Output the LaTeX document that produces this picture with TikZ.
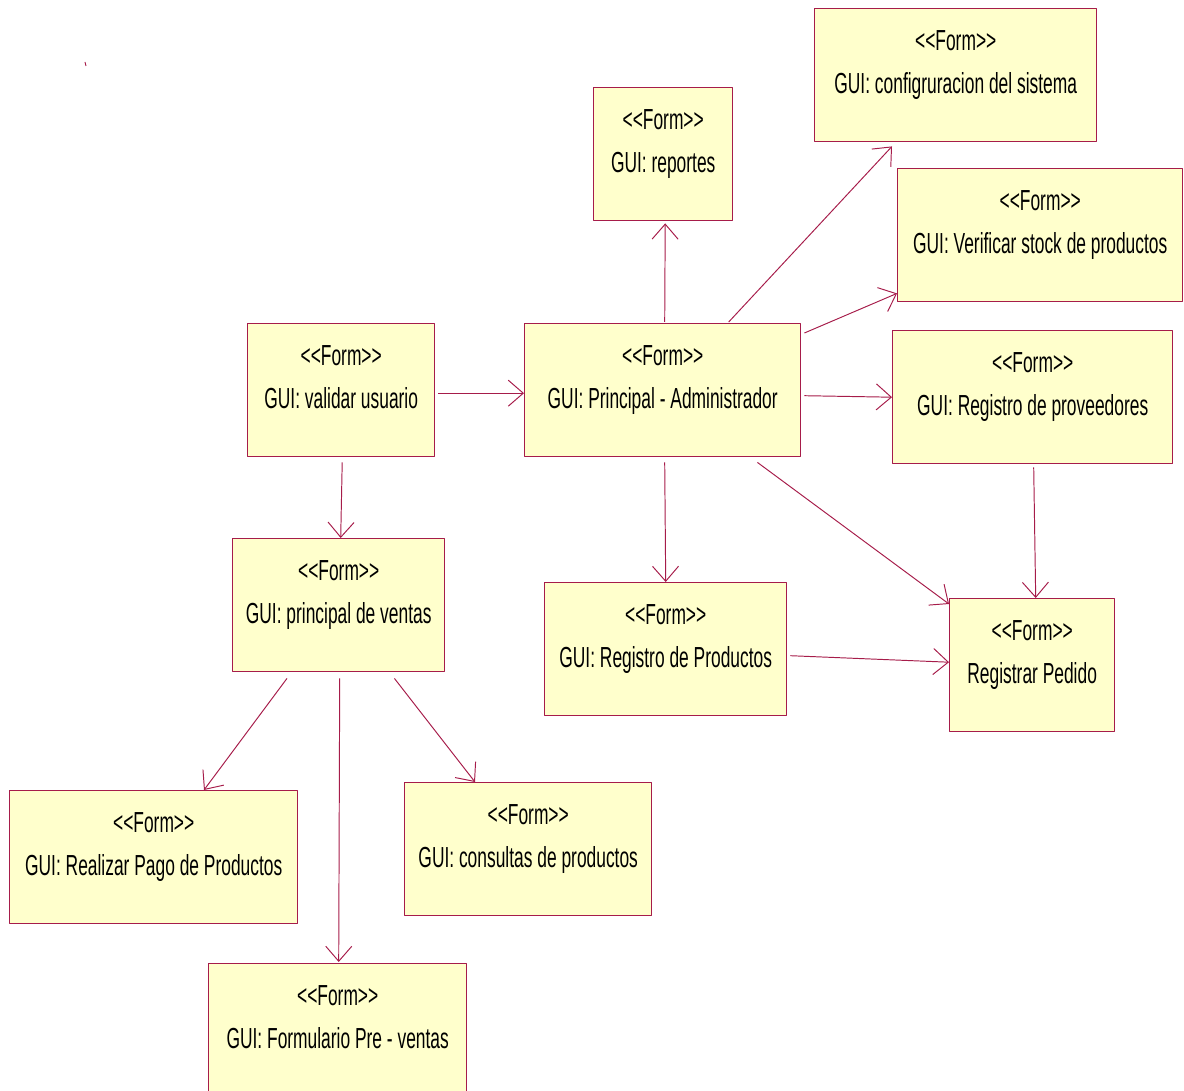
\documentclass[tikz,border=0pt]{standalone}
\usepackage{fontspec}
\setmainfont[FakeStretch=0.6,Ligatures=TeXOff]{Liberation Sans}
\usetikzlibrary{arrows.meta,calc}
\definecolor{formline}{RGB}{166,28,74}
\definecolor{formfill}{RGB}{255,255,204}

\begin{document}
\begin{tikzpicture}[x=0.02cm,y=-0.02cm,line join=round,>={Straight Barb[length=0.3cm,width=0.52cm]}]
\tikzset{formbox/.style={draw=formline,fill=formfill,line width=0.8pt,anchor=north west,minimum height=133*0.02cm,inner sep=0pt},
formtext/.style={anchor=north,align=center,inner sep=0pt,font=\fontsize{16.5}{24.4}\selectfont},
link/.style={->,draw=formline,line width=0.55pt}}
\useasboundingbox (0,0) rectangle (1184,1091);
\draw[formline,line width=0.5pt] (85,62)--(86,66);
% boxes
\foreach \nm/\px/\py/\w/\txt in {conf/814/8/282/{GUI: configruracion del sistema},
rep/593/87/139/{GUI: reportes},
verif/897/168/285/{GUI: Verificar stock de productos},
valid/247/323/187/{GUI: validar usuario},
admin/524/323/276/{GUI: Principal - Administrador},
prov/892/330/280/{GUI: Registro de proveedores},
ventas/232/538/212/{GUI: principal de ventas},
regprod/544/582/242/{GUI: Registro de Productos},
pedido/949/598/165/{Registrar Pedido},
pago/9/790/288/{GUI: Realizar Pago de Productos},
consul/404/782/247/{GUI: consultas de productos},
prevent/208/963/258/{GUI: Formulario Pre - ventas}}{
\node[formbox,minimum width=\w*0.02cm] (\nm) at (\px,\py) {};
\node[formtext] (\nm-t) at ($(\nm.north)+(0,22)$) {<<Form>>\\\txt};
}
% links
\draw[link] ($(valid.east)+(3,3)$)--($(admin.west)+(0,3)$);
\draw[link] ($(valid.south)+(1,5)$)--($(ventas.north)+(2,0)$);
\draw[link] ($(admin.north)+(2,-1)$)--($(rep.south)+(2,2)$);
\draw[link] ($(admin.north)+(66,-1)$)--($(conf.south west)+(78,4)$);
\draw[link] ($(admin.north east)+(3,10)$)--($(verif.south west)+(0,-9)$);
\draw[link] ($(admin.east)+(3,5.5)$)--($(prov.west)+(0,0)$);
\draw[link] ($(admin.south)+(2,5)$)--(regprod.north);
\draw[link] ($(admin.south east)+(-44,5)$)--($(pedido.north west)+(0,6)$);
\draw[link] ($(prov.south)+(1,3)$)--($(pedido.north)+(3.5,0)$);
\draw[link] ($(regprod.east)+(3,6.5)$)--($(pedido.west)+(0,-3)$);
\draw[link] ($(ventas.south west)+(55,6)$)--($(pago.north west)+(195,0)$);
\draw[link] ($(ventas.south)+(1,6)$)--($(prevent.north)+(1,-1)$);
\draw[link] ($(ventas.south east)+(-51,6)$)--($(consul.north west)+(71,0)$);
\end{tikzpicture}
\end{document}
